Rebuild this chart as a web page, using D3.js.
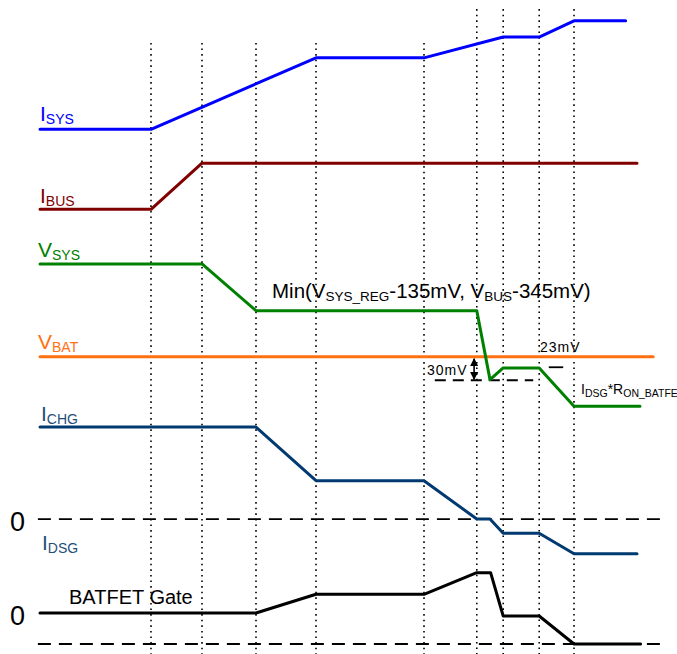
<!DOCTYPE html>
<html><head><meta charset="utf-8">
<script src="https://cdn.jsdelivr.net/npm/d3@7"></script>
<style>
  body { margin: 0; background: #fff; }
  svg { display: block; font-family: Arial, "Liberation Sans", sans-serif; }
</style>
</head><body>
<svg id="chart" width="677" height="654"></svg>
<script>
// ---- timing markers (time units) ----
const markerTimes = [18.5, 27, 36, 46, 64, 72.8, 77.2, 83.2, 89];
const markerTops  = [93.4, 93.4, 93.4, 93.4, 93.4, 98.6, 98.6, 98.6, 98.6];

// ---- waveforms: time points and levels (arbitrary level units) ----
const tIsys = [0, 18.5, 46, 64, 77.2, 83.2, 89, 97.6];
const vIsys = [80.1, 80.1, 91.1, 91.1, 94.3, 94.3, 96.8, 96.8];

const tIbus = [0, 18.5, 27, 99.5];
const vIbus = [67.8, 67.8, 74.9, 74.9];

const tVsys = [0, 27, 36, 72.8, 75, 77.2, 83.2, 89, 100];
const vVsys = [59.4, 59.4, 52.2, 52.2, 41.6, 43.4, 43.4, 37.5, 37.5];

const tVbat = [0, 102.2];
const vVbat = [45.1, 45.1];

const tIchg = [0, 36, 46, 64, 72.8, 75, 77.2, 83.2, 89, 99.5];
const vIchg = [34.3, 34.3, 26.05, 26.05, 20.15, 20.15, 17.95, 17.95, 14.8, 14.8];

const tGate = [0, 36, 46, 64, 72.8, 75.1, 77.2, 83.2, 89, 100.1];
const vGate = [5.7, 5.7, 8.57, 8.57, 11.9, 11.9, 5.23, 5.23, 0.92, 0.92];

// zero references for the current and gate traces
const zeroLevels = [20.15, 0.92];
const zeroSpan = [-0.35, 104.5];

// VSYS minimum reference and the 23 mV step marker
const vsysMinLevel = 41.5;
const vsysMinSpan = [65.8, 82.2];
const stepLevel = 43.5;
const stepSpan = [84.8, 87.2];
const arrowTime = 72.35;

// ---- scales ----
const x = d3.scaleLinear().domain([0, 100]).range([40, 640]);
const y = d3.scaleLinear().domain([0, 100]).range([650, 0]);
const markerBottom = -0.7;

const svg = d3.select("#chart");
svg.append("rect").attr("width", 677).attr("height", 654).attr("fill", "#fff");

// dotted timing markers
svg.append("g").selectAll("line")
  .data(markerTimes)
  .join("line")
  .attr("x1", d => x(d)).attr("x2", d => x(d))
  .attr("y1", (d, i) => y(markerTops[i])).attr("y2", y(markerBottom))
  .attr("stroke", "#000").attr("stroke-width", 1.6)
  .attr("stroke-dasharray", "1.6,4");

// dashed zero references
svg.append("g").selectAll("line")
  .data(zeroLevels)
  .join("line")
  .attr("x1", x(zeroSpan[0])).attr("x2", x(zeroSpan[1]))
  .attr("y1", d => y(d)).attr("y2", d => y(d))
  .attr("stroke", "#000").attr("stroke-width", 1.8)
  .attr("stroke-dasharray", "13,8");

// VSYS minimum dashed line and 23 mV tick
svg.append("line")
  .attr("x1", x(vsysMinSpan[0])).attr("x2", x(vsysMinSpan[1]))
  .attr("y1", y(vsysMinLevel)).attr("y2", y(vsysMinLevel))
  .attr("stroke", "#000").attr("stroke-width", 1.8)
  .attr("stroke-dasharray", "11,7");
svg.append("line")
  .attr("x1", x(stepSpan[0])).attr("x2", x(stepSpan[1]))
  .attr("y1", y(stepLevel)).attr("y2", y(stepLevel))
  .attr("stroke", "#000").attr("stroke-width", 1.8);

// waveforms
const line = d3.line().x(d => x(d[0])).y(d => y(d[1]));
const traces = [
  { t: tVbat, v: vVbat, color: "#ff7010" },
  { t: tIsys, v: vIsys, color: "#0000ff" },
  { t: tIbus, v: vIbus, color: "#800000" },
  { t: tVsys, v: vVsys, color: "#008000" },
  { t: tIchg, v: vIchg, color: "#003a70" },
  { t: tGate, v: vGate, color: "#000000" }
];
svg.append("g").selectAll("path")
  .data(traces)
  .join("path")
  .attr("d", d => line(d.t.map((t, i) => [t, d.v[i]])))
  .attr("fill", "none")
  .attr("stroke", d => d.color)
  .attr("stroke-width", 3)
  .attr("stroke-linejoin", "round")
  .attr("stroke-linecap", "round");

// double-headed arrow for the 30 mV drop
const defs = svg.append("defs");
["start", "end"].forEach(k => {
  defs.append("marker")
    .attr("id", "ah-" + k)
    .attr("viewBox", "0 0 10 10")
    .attr("refX", 9).attr("refY", 5)
    .attr("markerWidth", 5).attr("markerHeight", 5)
    .attr("orient", "auto-start-reverse")
    .append("path").attr("d", "M0,0 L10,5 L0,10 z").attr("fill", "#000");
});
svg.append("line")
  .attr("x1", x(arrowTime)).attr("x2", x(arrowTime))
  .attr("y1", y(vVbat[0]) + 2).attr("y2", y(vsysMinLevel) - 1)
  .attr("stroke", "#000").attr("stroke-width", 1.6)
  .attr("marker-start", "url(#ah-start)")
  .attr("marker-end", "url(#ah-end)");

// ---- text ----
function label(px, py, parts, color, size, subSize, extra) {
  const t = svg.append("text").attr("x", px).attr("y", py)
    .attr("fill", color).attr("font-size", size);
  if (extra) t.attr("letter-spacing", extra);
  parts.forEach(p => {
    const s = t.append("tspan").text(p[0]);
    if (p[1]) s.attr("font-size", subSize).attr("dy", 3);
    else if (p[2]) s.attr("dy", -3);
  });
  return t;
}

label(40, 120.7, [["I"], ["SYS", true]], "#0000ff", 21, 14);
label(40, 203.3, [["I"], ["BUS", true]], "#800000", 21, 14);
label(38, 256.7, [["V"], ["SYS", true]], "#008000", 21, 14);
label(38, 349.3, [["V"], ["BAT", true]], "#ff7010", 21, 14);
label(41, 420.7, [["I"], ["CHG", true]], "#1f4e79", 21, 14);
label(42, 550, [["I"], ["DSG", true]], "#1f4e79", 21, 14);

svg.append("text").attr("x", 10).attr("y", 530.5).attr("font-size", 27).text("0");
svg.append("text").attr("x", 10).attr("y", 624.5).attr("font-size", 27).text("0");

svg.append("text").attr("x", 69).attr("y", 604.3).attr("font-size", 20).text("BATFET Gate");

label(272, 298, [["Min("], ["V"], ["SYS_REG", true], ["-135mV, V", false, true], ["BUS", true], ["-345mV)", false, true]], "#000", 20.5, 13.5);

svg.append("text").attr("x", 427).attr("y", 375).attr("font-size", 14).attr("letter-spacing", 1).text("30mV");
svg.append("text").attr("x", 540).attr("y", 351.5).attr("font-size", 14).attr("letter-spacing", 1).text("23mV");

label(581, 394, [["I"], ["DSG", true], ["*R", false, true], ["ON_BATFET", true]], "#000", 14, 10.5);
</script>
</body></html>
